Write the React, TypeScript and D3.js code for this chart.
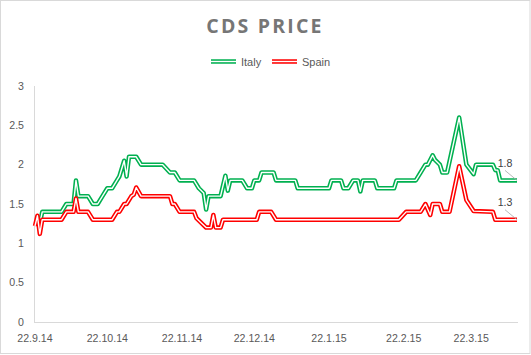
import React from 'react';
import * as d3 from 'd3';

const italyDates = [
  '2014-09-22', '2014-09-23', '2014-09-24', '2014-09-25', '2014-10-03', '2014-10-05', '2014-10-08', '2014-10-09',
  '2014-10-10', '2014-10-14', '2014-10-16', '2014-10-18', '2014-10-20', '2014-10-22', '2014-10-24', '2014-10-26',
  '2014-10-27', '2014-10-29', '2014-10-30', '2014-10-31', '2014-11-03', '2014-11-05', '2014-11-14', '2014-11-17',
  '2014-11-19', '2014-11-21', '2014-11-27', '2014-11-29', '2014-12-01', '2014-12-02', '2014-12-03', '2014-12-08',
  '2014-12-10', '2014-12-11', '2014-12-12', '2014-12-17', '2014-12-19', '2014-12-21', '2014-12-22', '2014-12-24',
  '2014-12-25', '2014-12-30', '2014-12-31', '2015-01-08', '2015-01-09', '2015-01-22', '2015-01-23', '2015-01-27',
  '2015-01-28', '2015-01-30', '2015-02-01', '2015-02-03', '2015-02-04', '2015-02-05', '2015-02-10', '2015-02-11',
  '2015-02-18', '2015-02-19', '2015-02-27', '2015-03-01', '2015-03-03', '2015-03-04', '2015-03-06', '2015-03-07',
  '2015-03-09', '2015-03-10', '2015-03-12', '2015-03-17', '2015-03-20', '2015-03-23', '2015-03-24', '2015-03-31',
  '2015-04-01', '2015-04-02', '2015-04-03', '2015-04-10',
];
const italyValues = [
  1.3, 1.3, 1.25, 1.4, 1.4, 1.5, 1.5, 1.8,
  1.6, 1.6, 1.5, 1.5, 1.6, 1.7, 1.7, 1.8,
  1.85, 2.05, 1.85, 2.1, 2.1, 2.0, 2.0, 1.9,
  1.9, 1.8, 1.8, 1.7, 1.64, 1.43, 1.6, 1.6,
  1.86, 1.67, 1.8, 1.8, 1.7, 1.7, 1.8, 1.8,
  1.9, 1.9, 1.8, 1.8, 1.7, 1.7, 1.8, 1.8,
  1.7, 1.7, 1.8, 1.8, 1.66, 1.8, 1.8, 1.7,
  1.7, 1.8, 1.8, 1.9, 2.0, 2.0, 2.12, 2.06,
  2.0, 1.9, 1.9, 2.6, 2.0, 1.88, 2.0, 2.0,
  1.93, 1.93, 1.8, 1.8,
];

const spainDates = [
  '2014-09-22', '2014-09-23', '2014-09-24', '2014-09-25', '2014-10-03', '2014-10-05', '2014-10-08', '2014-10-09',
  '2014-10-10', '2014-10-14', '2014-10-16', '2014-10-24', '2014-10-26', '2014-10-27', '2014-10-29', '2014-10-30',
  '2014-11-01', '2014-11-02', '2014-11-03', '2014-11-05', '2014-11-17', '2014-11-18', '2014-11-19', '2014-11-21',
  '2014-11-27', '2014-11-28', '2014-11-30', '2014-12-02', '2014-12-04', '2014-12-05', '2014-12-06', '2014-12-08',
  '2014-12-09', '2014-12-23', '2014-12-24', '2014-12-29', '2014-12-31', '2015-02-20', '2015-02-23', '2015-03-01',
  '2015-03-03', '2015-03-05', '2015-03-06', '2015-03-09', '2015-03-10', '2015-03-13', '2015-03-17', '2015-03-20',
  '2015-03-23', '2015-03-31', '2015-04-01', '2015-04-10',
];
const spainValues = [
  1.22, 1.35, 1.12, 1.3, 1.3, 1.4, 1.4, 1.57,
  1.4, 1.4, 1.3, 1.3, 1.4, 1.4, 1.5, 1.5,
  1.6, 1.62, 1.71, 1.6, 1.6, 1.5, 1.5, 1.4,
  1.4, 1.32, 1.26, 1.2, 1.2, 1.36, 1.2, 1.2,
  1.3, 1.3, 1.4, 1.4, 1.3, 1.3, 1.4, 1.4,
  1.5, 1.36, 1.5, 1.5, 1.4, 1.4, 1.98, 1.55,
  1.41, 1.4, 1.3, 1.3,
];

const yTicks = [0, 0.5, 1, 1.5, 2, 2.5, 3];
const xTickDates = ['2014-09-22', '2014-10-22', '2014-11-22', '2014-12-22', '2015-01-22', '2015-02-22', '2015-03-22'];
const xDomain = ['2014-09-22', '2015-04-10'];
const seriesNames = ['Italy', 'Spain'];
const seriesColors = ['#00b050', '#ff0000'];

const FONT = '"Liberation Sans", Arial, sans-serif';

export default function App() {
  const W = 531;
  const H = 355;
  const parse = d3.utcParse('%Y-%m-%d');
  const x = d3.scaleUtc().domain(xDomain.map((s) => parse(s) as Date)).range([35, 517]);
  const y = d3.scaleLinear().domain([0, 3]).range([322, 86]);
  const line = d3
    .line<[Date, number]>()
    .x((d) => x(d[0]))
    .y((d) => y(d[1]));
  const fmt = (d: Date) => `${d.getUTCDate()}.${d.getUTCMonth() + 1}.${String(d.getUTCFullYear()).slice(2)}`;

  const series = [
    { name: seriesNames[0], color: seriesColors[0], pts: italyDates.map((s, i) => [parse(s) as Date, italyValues[i]] as [Date, number]) },
    { name: seriesNames[1], color: seriesColors[1], pts: spainDates.map((s, i) => [parse(s) as Date, spainValues[i]] as [Date, number]) },
  ];

  const legendX = [211, 272];

  return (
    <svg width={W} height={H} style={{ position: 'absolute', left: 0, top: 0, background: '#fff' }} fontFamily={FONT}>
      <rect x={0.5} y={0.5} width={W - 1.5} height={353} fill="#fff" stroke="#d9d9d9" strokeWidth={1} />
      <text
        x={265}
        y={33}
        textAnchor="middle"
        fontFamily='"Open Sans", sans-serif'
        fontWeight="bold"
        fontSize={19.5}
        letterSpacing={2.2}
        fill="#767676"
      >
        CDS PRICE
      </text>

      {series.map((s, i) => (
        <g key={s.name}>
          <line x1={legendX[i]} x2={legendX[i] + 25} y1={61.5} y2={61.5} stroke={s.color} strokeWidth={4.5} />
          <line x1={legendX[i]} x2={legendX[i] + 25} y1={61.5} y2={61.5} stroke="#fff" strokeWidth={1.4} />
          <text x={legendX[i] + 30} y={65.5} fontSize={11} fill="#595959">
            {s.name}
          </text>
        </g>
      ))}

      <line x1={34.5} x2={34.5} y1={86} y2={322} stroke="#d9d9d9" strokeWidth={1} />
      <line x1={34} x2={518} y1={322.5} y2={322.5} stroke="#d9d9d9" strokeWidth={1} />

      {yTicks.map((t) => (
        <text key={t} x={24} y={y(t)} dy="0.35em" textAnchor="end" fontSize={10.6} fill="#595959">
          {String(t)}
        </text>
      ))}
      {xTickDates.map((s) => {
        const d = parse(s) as Date;
        return (
          <text key={s} x={x(d)} y={342} textAnchor="middle" fontSize={10.6} fill="#595959">
            {fmt(d)}
          </text>
        );
      })}

      {series.map((s) => (
        <g key={s.name}>
          <path d={line(s.pts) || ''} fill="none" stroke={s.color} strokeWidth={4.5} strokeLinejoin="round" />
          <path d={line(s.pts) || ''} fill="none" stroke="#fff" strokeWidth={1.4} strokeLinejoin="round" />
        </g>
      ))}

      {series.map((s) => {
        const last = s.pts[s.pts.length - 1];
        const px = x(last[0]);
        const py = y(last[1]);
        return (
          <g key={s.name + '-label'}>
            <line x1={px - 12} y1={py - 10} x2={px} y2={py} stroke="#a6a6a6" strokeWidth={0.8} />
            <text x={px - 12} y={py - 17} dy="0.35em" textAnchor="middle" fontSize={10.6} fill="#404040">
              {String(last[1])}
            </text>
          </g>
        );
      })}
    </svg>
  );
}
